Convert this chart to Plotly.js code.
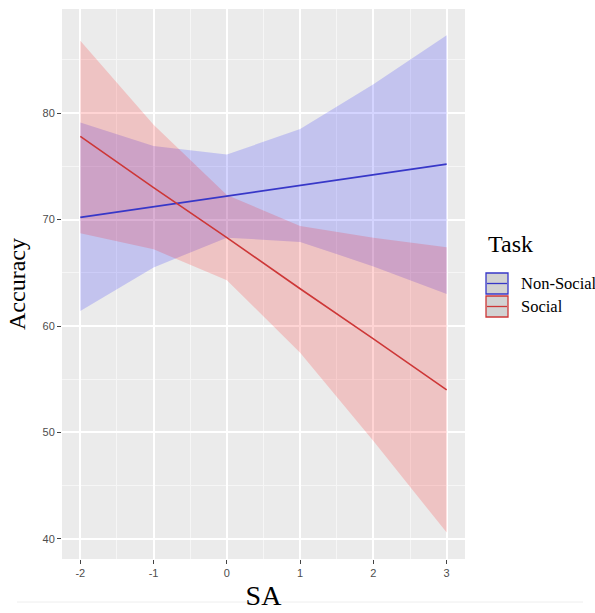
<!DOCTYPE html>
<html>
<head>
<meta charset="utf-8">
<script src="https://cdn.plot.ly/plotly-3.0.1.min.js"></script>
<style>html,body{margin:0;padding:0;background:#fff;}#chart{width:595px;height:613px;}</style>
</head>
<body>
<div id="chart"></div>
<script>
// ---- data ----
const sa = [-2, -1, 0, 1, 2, 3];
const nonSocialFit   = [70.2, 71.2, 72.2, 73.2, 74.2, 75.2];
const nonSocialUpper = [79.1, 76.9, 76.1, 78.5, 82.7, 87.3];
const nonSocialLower = [61.4, 65.5, 68.3, 67.9, 65.6, 63.0];
const socialFit   = [77.8, 73.0, 68.3, 63.5, 58.8, 54.0];
const socialUpper = [86.8, 78.9, 72.3, 69.4, 68.3, 67.4];
const socialLower = [68.7, 67.2, 64.3, 57.5, 49.2, 40.6];
const taskNames = ["Non-Social", "Social"];
const xTicks = [-2, -1, 0, 1, 2, 3];
const yTicks = [40, 50, 60, 70, 80];

const blueLine = "rgb(55,55,200)";
const redLine = "rgb(205,55,55)";
const blueFill = "rgba(0,0,255,0.17)";
const redFill = "rgba(255,0,0,0.17)";

function band(lower, upper, fill, name) {
  return [
    {x: sa, y: lower, type: "scatter", mode: "lines", line: {width: 0}, hoverinfo: "skip", showlegend: false, name: name + " lower"},
    {x: sa, y: upper, type: "scatter", mode: "lines", line: {width: 0}, fill: "tonexty", fillcolor: fill, hoverinfo: "skip", showlegend: false, name: name + " upper"}
  ];
}

const traces = [].concat(
  band(nonSocialLower, nonSocialUpper, blueFill, taskNames[0]),
  band(socialLower, socialUpper, redFill, taskNames[1]),
  [
    {x: sa, y: nonSocialFit, type: "scatter", mode: "lines", line: {color: blueLine, width: 1.6}, name: taskNames[0], showlegend: false},
    {x: sa, y: socialFit, type: "scatter", mode: "lines", line: {color: redLine, width: 1.6}, name: taskNames[1], showlegend: false}
  ]
);

// plot area in pixels
const L = 62, R = 465, T = 9, B = 559;
const W = 595, H = 613;
const px = x => (x - L) / (R - L);
const py = y => (B - y) / (B - T);

function key(y0, color) {
  return [
    {type: "rect", xref: "paper", yref: "paper", x0: px(486), x1: px(508), y0: py(y0 + 21), y1: py(y0),
     fillcolor: "#D2D2D2", line: {color: color, width: 1.3}},
    {type: "line", xref: "paper", yref: "paper", x0: px(487), x1: px(507), y0: py(y0 + 10.5), y1: py(y0 + 10.5),
     line: {color: color, width: 1.3}}
  ];
}

const layout = {
  width: W, height: H,
  margin: {l: L, r: W - R, t: T, b: H - B, pad: 0},
  paper_bgcolor: "#FFFFFF",
  plot_bgcolor: "#EBEBEB",
  showlegend: false,
  xaxis: {
    range: [-2.25, 3.25],
    tickvals: xTicks, ticktext: xTicks.map(String),
    ticks: "outside", ticklen: 4, tickwidth: 1, tickcolor: "#444",
    tickfont: {family: "Liberation Sans, Arial, sans-serif", size: 11, color: "#4D4D4D"},
    showgrid: true, gridcolor: "#FFFFFF", gridwidth: 2,
    minor: {dtick: 0.5, tick0: 0, showgrid: true, gridcolor: "#F6F6F6", gridwidth: 1, ticks: ""},
    zeroline: false, showline: false,
    title: {text: "SA", font: {family: "Liberation Serif, Times New Roman, serif", size: 28, color: "#000"}, standoff: 7}
  },
  yaxis: {
    range: [38.12, 89.77],
    tickvals: yTicks, ticktext: yTicks.map(String),
    ticks: "outside", ticklen: 4, tickwidth: 1, tickcolor: "#444",
    tickfont: {family: "Liberation Sans, Arial, sans-serif", size: 11, color: "#4D4D4D"},
    showgrid: true, gridcolor: "#FFFFFF", gridwidth: 2,
    minor: {dtick: 5, tick0: 0, showgrid: true, gridcolor: "#F6F6F6", gridwidth: 1, ticks: ""},
    zeroline: false, showline: false,
    title: {text: "Accuracy", font: {family: "Liberation Serif, Times New Roman, serif", size: 24, color: "#000"}, standoff: 10}
  },
  shapes: [].concat(key(273, blueLine), key(296, redLine), [
    {type: "line", xref: "paper", yref: "paper", x0: px(17), x1: px(583), y0: py(602), y1: py(602), line: {color: "#EEEEEE", width: 1}}
  ]),
  annotations: [
    {text: "Task", xref: "paper", yref: "paper", x: px(486), y: py(244), xanchor: "left", yanchor: "middle", showarrow: false,
     font: {family: "Liberation Serif, Times New Roman, serif", size: 24, color: "#000"}},
    {text: taskNames[0], xref: "paper", yref: "paper", x: px(519), y: py(283), xanchor: "left", yanchor: "middle", showarrow: false,
     font: {family: "Liberation Serif, Times New Roman, serif", size: 16.5, color: "#000"}},
    {text: taskNames[1], xref: "paper", yref: "paper", x: px(519), y: py(306), xanchor: "left", yanchor: "middle", showarrow: false,
     font: {family: "Liberation Serif, Times New Roman, serif", size: 16.5, color: "#000"}}
  ]
};

Plotly.newPlot("chart", traces, layout, {displayModeBar: false, staticPlot: true});
</script>
</body>
</html>
